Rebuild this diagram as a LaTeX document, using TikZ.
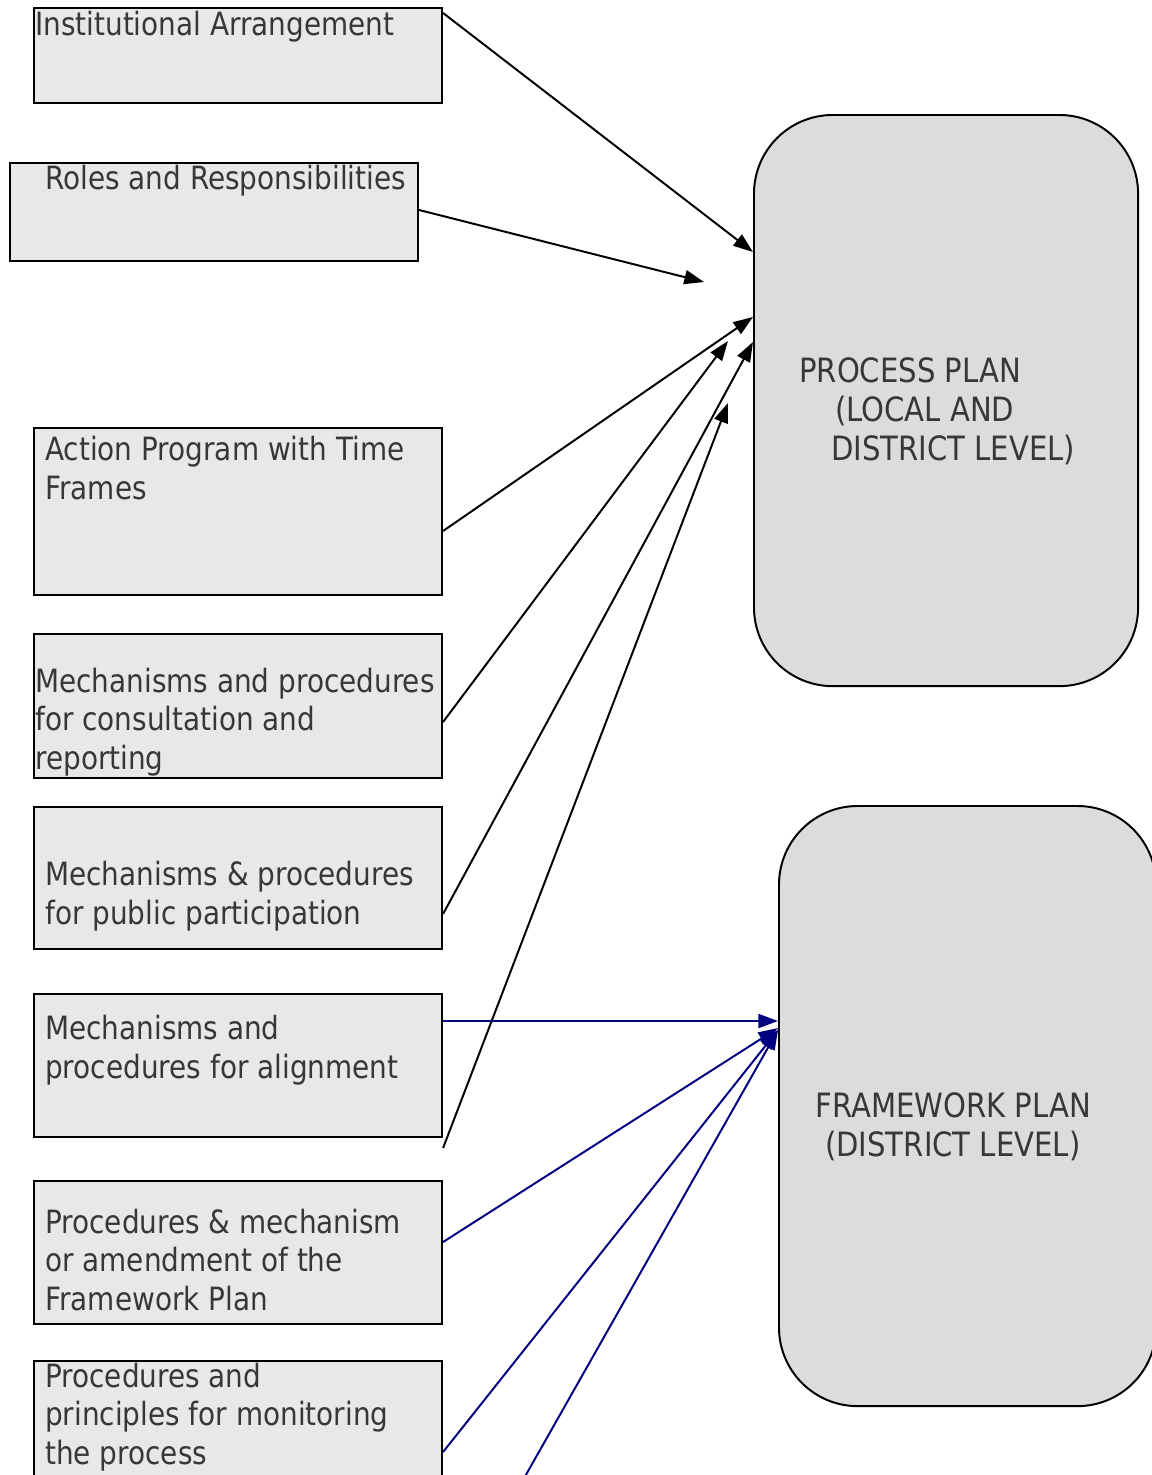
\documentclass[tikz,border=0pt]{standalone}
\usepackage{fontspec}
\setmainfont{DejaVu Sans}[FakeStretch=0.87]
\usetikzlibrary{arrows.meta, calc, positioning}

\definecolor{boxfill}{RGB}{232,232,232}
\definecolor{planfill}{RGB}{220,220,220}
\definecolor{txtgray}{RGB}{55,55,55}
\definecolor{linkblue}{RGB}{0,0,128}

\tikzset{
  itembox/.style={draw=black, fill=boxfill, line width=1.4pt, rectangle,
    anchor=north west, minimum width=10.2cm, inner sep=0pt},
  planbox/.style={draw=black, fill=planfill, line width=1.4pt, rectangle,
    rounded corners=56pt, anchor=north west, inner sep=0pt},
  txt/.style={anchor=base west, align=left, inner sep=0pt, text=txtgray,
    font=\fontsize{22.8pt}{27.3pt}\selectfont},
  plantxt/.style={txt, font=\fontsize{23.8pt}{27.6pt}\selectfont},
  link/.style={draw=black, line width=1.4pt, -{Triangle[length=14pt,width=10pt]}},
  bluelink/.style={link, draw=linkblue, -{Triangle[length=14pt,width=10pt,fill=linkblue]}}
}

\begin{document}
\begin{tikzpicture}[x=0.025cm, y=-0.025cm]
\useasboundingbox (0,0) rectangle (1152,1475);
\clip (0,0) rectangle (1152,1475);

%% Cajas de la izquierda %%%%%%%%%%%%%%%%%%%%%%%%%%%%
\node[itembox, minimum height=2.375cm] (inst)    at (33,7)    {};
\node[itembox, minimum height=2.45cm]  (roles)   at (9,162)   {};
\node[itembox, minimum height=4.175cm] (action)  at (33,427)  {};
\node[itembox, minimum height=3.6cm]   (consult) at (33,633)  {};
\node[itembox, minimum height=3.55cm]  (public)  at (33,806)  {};
\node[itembox, minimum height=3.575cm] (align)   at (33,993)  {};
\node[itembox, minimum height=3.575cm] (amend)   at (33,1180) {};
\node[itembox, minimum height=3.5cm]   (monitor) at (33,1360) {};

%% textos (base = ultima linea)
\node[txt] (instT)    at ($(inst.north west)+(2,28)$)     {Institutional Arrangement};
\node[txt] (rolesT)   at ($(roles.north west)+(36,27)$)   {Roles and Responsibilities};
\node[txt] (actionT)  at ($(action.north west)+(12,72)$)  {Action Program with Time\\Frames};
\node[txt] (consultT) at ($(consult.north west)+(2,136)$) {Mechanisms and procedures\\for consultation and\\reporting};
\node[txt] (publicT)  at ($(public.north west)+(12,118)$) {Mechanisms \& procedures\\for public participation};
\node[txt] (alignT)   at ($(align.north west)+(12,85)$)   {Mechanisms and\\procedures for alignment};
\node[txt] (amendT)   at ($(amend.north west)+(12,130)$)  {Procedures \& mechanism\\or amendment of the\\Framework Plan};
\node[txt] (monitorT) at ($(monitor.north west)+(12,104)$) {Procedures and\\principles for monitoring\\the process};

%% Los dos planes %%%%%%%%%%%%%%%%%%%%%%%%%%%%%%%%%%%%%
\node[planbox, minimum width=9.6cm, minimum height=14.275cm] (pp) at (753,114) {};
\node[planbox, minimum width=9.425cm, minimum height=15cm]   (fp) at (778,805) {};

\node[plantxt] (ppT) at ($(pp.north west)+(46,346)$)
  {PROCESS PLAN\\\hspace*{25.5pt}(LOCAL AND\\\hspace*{22.7pt}DISTRICT LEVEL)};
\node[plantxt] (fpT) at ($(fp.north west)+(37,351)$)
  {FRAMEWORK PLAN\\\hspace*{7pt}(DISTRICT LEVEL)};

%% Puntas sueltas %%
\coordinate (rolesEnd)   at (704,282);
\coordinate (consultEnd) at (728,341);
\coordinate (alignEnd)   at (728,403);
\coordinate (lowStart)   at (523,1480);

%% Flechas negras -> PROCESS PLAN %%%%%%%%%%%%%%%%%%%%%
\draw[link] ($(inst.north east)+(0,6)$)     -- ($(pp.north west)+(0,138)$);
\draw[link] ($(roles.north east)+(0,48)$)   -- (rolesEnd);
\draw[link] ($(action.north east)+(0,104)$) -- ($(pp.north west)+(0,203)$);
\draw[link] ($(consult.north east)+(0,89)$) -- (consultEnd);
\draw[link] ($(public.north east)+(0,108)$) -- ($(pp.north west)+(0,228)$);
\draw[link] ($(align.south east)+(0,10)$)   -- (alignEnd);

%% Flechas azules -> FRAMEWORK PLAN %%%%%%%%%%%%%%%%%%%
\draw[bluelink] ($(align.north east)+(0,28)$)   -- ($(fp.north west)+(0,216)$);
\draw[bluelink] ($(amend.north east)+(0,62)$)   -- ($(fp.north west)+(0,223)$);
\draw[bluelink] ($(monitor.north east)+(0,92)$) -- ($(fp.north west)+(0,225)$);
\draw[bluelink] (lowStart) -- ($(fp.north west)+(0,225)$);
\end{tikzpicture}
\end{document}
